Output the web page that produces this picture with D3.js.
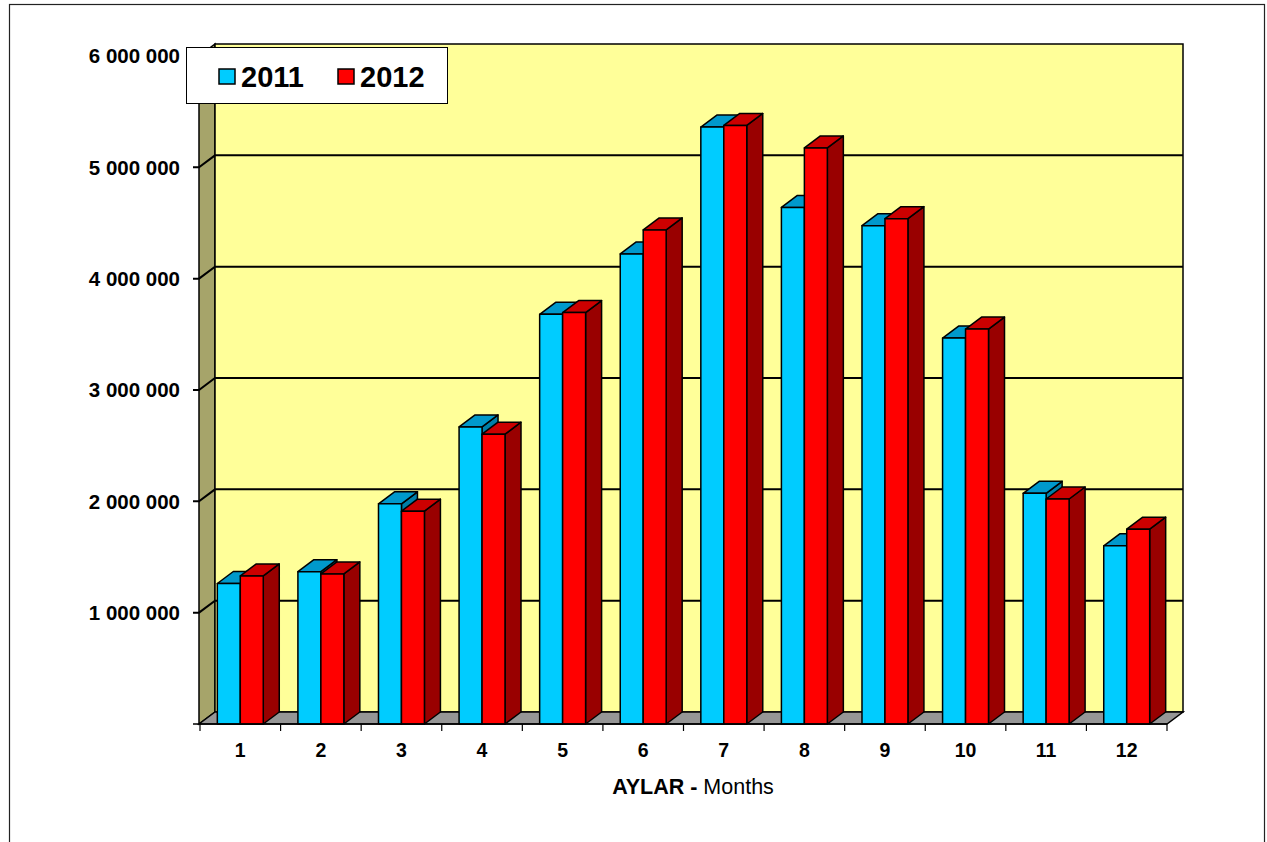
<!DOCTYPE html>
<html>
<head>
<meta charset="utf-8">
<script src="https://cdn.jsdelivr.net/npm/d3@7"></script>
<style>
  html, body { margin: 0; padding: 0; background: #fff; }
  svg { display: block; font-family: "Liberation Sans", Arial, sans-serif; }
</style>
</head>
<body>
<svg id="chart" width="1267" height="842"></svg>
<script>
// ---- data ----
const months = ["1", "2", "3", "4", "5", "6", "7", "8", "9", "10", "11", "12"];
const seriesNames = ["2011", "2012"];
const values2011 = [1262000, 1368000, 1978000, 2668000, 3680000, 4222000, 5362000, 4640000, 4476000, 3466000, 2072000, 1600000];
const values2012 = [1330000, 1348000, 1912000, 2603000, 3695000, 4438000, 5376000, 5174000, 4539000, 3547000, 2021000, 1750000];
const yTicks = [0, 1000000, 2000000, 3000000, 4000000, 5000000, 6000000];
const xTitleBold = "AYLAR -";
const xTitleNormal = " Months";

// ---- layout ----
const svg = d3.select("#chart");
const DX = 16, DY = -12;           // 3D depth offset
const left = 199, right = 1167;
const y = d3.scaleLinear().domain([0, 6000000]).range([724, 56]);
const x = d3.scaleBand().domain(months).range([200, right]).paddingInner(0.43).paddingOuter(0.215);
const xs = d3.scaleBand().domain(seriesNames).range([0, x.bandwidth()]);
const colors = {
  "2011": { front: "#00CCFF", top: "#0099CC", side: "#007FA8" },
  "2012": { front: "#FF0000", top: "#CC0000", side: "#990000" }
};
const data = months.map((m, i) => ({ m, vals: [values2011[i], values2012[i]] }));
const y0 = y(0);
const yTop = y(6000000);

// outer frame
svg.append("rect").attr("x", 9.5).attr("y", 4.5).attr("width", 1255).attr("height", 860)
  .attr("fill", "#fff").attr("stroke", "#222").attr("stroke-width", 1.2);

const line = d3.line();
// side wall
svg.append("path")
  .attr("d", line([[left, y0], [left + DX, y0 + DY], [left + DX, yTop + DY], [left, yTop]]) + "Z")
  .attr("fill", "#A6A46A").attr("stroke", "#000").attr("stroke-width", 1.5);
// back wall
svg.append("path")
  .attr("d", line([[left + DX, y0 + DY], [right + DX, y0 + DY], [right + DX, yTop + DY], [left + DX, yTop + DY]]) + "Z")
  .attr("fill", "#FFFF99").attr("stroke", "#000").attr("stroke-width", 1.5);
// floor
svg.append("path")
  .attr("d", line([[left, y0], [right, y0], [right + DX, y0 + DY], [left + DX, y0 + DY]]) + "Z")
  .attr("fill", "#969696").attr("stroke", "#000").attr("stroke-width", 1.5);

// gridlines
const grid = svg.append("g");
yTicks.filter(t => t > 0 && t < 6000000).forEach(t => {
  grid.append("path")
    .attr("d", line([[left - 6, y(t)], [left, y(t)], [left + DX, y(t) + DY], [right + DX, y(t) + DY]]))
    .attr("fill", "none").attr("stroke", "#000").attr("stroke-width", 2);
});
[0, 6000000].forEach(t => {
  grid.append("line").attr("x1", left - 6).attr("x2", left).attr("y1", y(t)).attr("y2", y(t))
    .attr("stroke", "#000").attr("stroke-width", 1.5);
});

// y labels
svg.append("g").selectAll("text").data(yTicks.filter(t => t > 0)).join("text")
  .attr("x", 180).attr("y", d => y(d)).attr("dy", "0.36em")
  .attr("text-anchor", "end").attr("font-weight", "bold").attr("font-size", 20.5)
  .text(d => d3.format(",")(d).replace(/,/g, " "));

// bars
const bars = svg.append("g");
data.forEach(d => {
  seriesNames.forEach((s, j) => {
    const v = d.vals[j];
    const x0 = x(d.m) + xs(s), x1 = x0 + xs.bandwidth();
    const yv = y(v);
    const c = colors[s];
    const g = bars.append("g").attr("stroke", "#000").attr("stroke-width", 1.5).attr("stroke-linejoin", "round");
    g.append("path").attr("d", line([[x1, yv], [x1 + DX, yv + DY], [x1 + DX, y0 + DY], [x1, y0]]) + "Z").attr("fill", c.side);
    g.append("path").attr("d", line([[x0, yv], [x0 + DX, yv + DY], [x1 + DX, yv + DY], [x1, yv]]) + "Z").attr("fill", c.top);
    g.append("rect").attr("x", x0).attr("y", yv).attr("width", x1 - x0).attr("height", y0 - yv).attr("fill", c.front);
  });
});

// x axis
const xa = svg.append("g");
xa.append("line").attr("x1", left).attr("x2", right).attr("y1", y0).attr("y2", y0).attr("stroke", "#000").attr("stroke-width", 1.5);
const step = x.step();
d3.range(months.length + 1).forEach(i => {
  const xx = 200 + i * step;
  xa.append("line").attr("x1", xx).attr("x2", xx).attr("y1", y0).attr("y2", y0 + 7).attr("stroke", "#000").attr("stroke-width", 1.2);
});
xa.selectAll("text").data(months).join("text")
  .attr("x", d => x(d) + x.bandwidth() / 2).attr("y", 757)
  .attr("text-anchor", "middle").attr("font-weight", "bold").attr("font-size", 19.5)
  .text(d => d);

// x title
const title = svg.append("text").attr("x", 693).attr("y", 794).attr("text-anchor", "middle").attr("font-size", 21.5);
title.append("tspan").attr("font-weight", "bold").text(xTitleBold);
title.append("tspan").text(xTitleNormal);

// legend
const lg = svg.append("g");
lg.append("rect").attr("x", 186.5).attr("y", 47.5).attr("width", 261).attr("height", 56)
  .attr("fill", "#fff").attr("stroke", "#000").attr("stroke-width", 1);
const legendX = [219, 338];
seriesNames.forEach((s, j) => {
  lg.append("rect").attr("x", legendX[j]).attr("y", 69).attr("width", 16).attr("height", 15)
    .attr("fill", colors[s].front).attr("stroke", "#000").attr("stroke-width", 1.5);
  lg.append("text").attr("x", legendX[j] + 22).attr("y", 86.5).attr("font-weight", "bold").attr("font-size", 29).text(s);
});
</script>
</body>
</html>
